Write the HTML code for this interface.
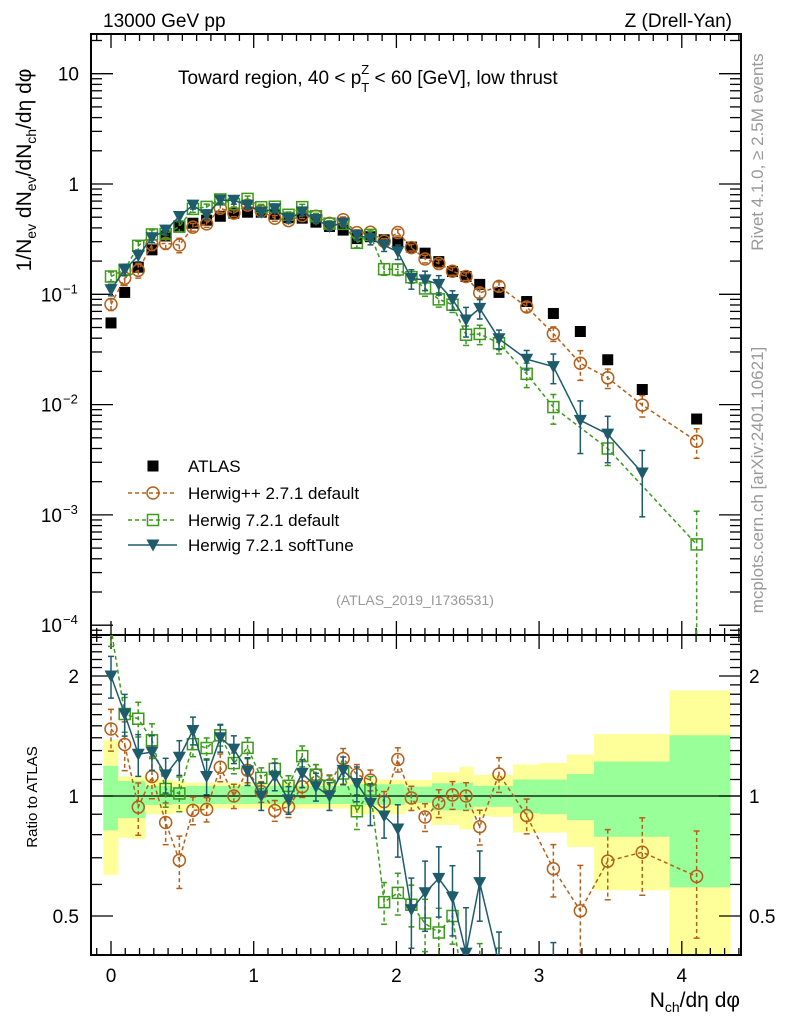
<!DOCTYPE html>
<html><head><meta charset="utf-8"><style>
html,body{margin:0;padding:0;background:#fff;width:786px;height:1024px;overflow:hidden;}
svg{display:block;font-family:"Liberation Sans",sans-serif;}
</style></head><body>
<svg id="chart" width="786" height="1024" viewBox="0 0 786 1024" xmlns="http://www.w3.org/2000/svg">
<defs>
<clipPath id="clipMain"><rect x="91" y="34" width="650" height="601"/></clipPath>
<clipPath id="clipRatio"><rect x="91" y="635" width="650" height="320"/></clipPath>
</defs>
<text x="103" y="27" font-size="19">13000 GeV pp</text>
<text x="732" y="27" font-size="19" text-anchor="end">Z (Drell-Yan)</text>
<text x="178" y="84" font-size="19">Toward region, 40 &lt; p<tspan font-size="13" dy="8">T</tspan><tspan font-size="13" dx="-8" dy="-18">Z</tspan><tspan dy="10"> &lt; 60 [GeV], low thrust</tspan></text>
<text transform="translate(763,152) rotate(-90)" font-size="17" fill="#999" text-anchor="middle">Rivet 4.1.0, ≥ 2.5M events</text>
<text transform="translate(763,480) rotate(-90)" font-size="17" fill="#999" text-anchor="middle">mcplots.cern.ch [arXiv:2401.10621]</text>
<text transform="translate(31,170) rotate(-90)" font-size="21" text-anchor="middle">1/N<tspan font-size="14" dy="5">ev</tspan><tspan dy="-5"> dN</tspan><tspan font-size="14" dy="5">ev</tspan><tspan dy="-5">/dN</tspan><tspan font-size="14" dy="5">ch</tspan><tspan dy="-5">/dη dφ</tspan></text>
<text transform="translate(37,797) rotate(-90)" font-size="15" text-anchor="middle">Ratio to ATLAS</text>
<text x="740" y="1007" font-size="21" text-anchor="end">N<tspan font-size="14" dy="5">ch</tspan><tspan dy="-5">/dη dφ</tspan></text>
<text x="415" y="605" font-size="14" fill="#999" text-anchor="middle">(ATLAS_2019_I1736531)</text>
<g id="bands" clip-path="url(#clipRatio)"></g>
<g id="axes"></g>
<g id="mainMarks" clip-path="url(#clipMain)"></g>
<g id="ratioMarks" clip-path="url(#clipRatio)"></g>
<g id="legend"></g>
</svg>
<script>
const nch=[0,0.096,0.191,0.287,0.383,0.479,0.574,0.670,0.766,0.861,0.957,1.053,1.148,1.244,1.340,1.436,1.531,1.627,1.723,1.818,1.914,2.010,2.105,2.201,2.297,2.393,2.488,2.584,2.719,2.913,3.100,3.289,3.481,3.723,4.104];
const atlas=[0.055,0.104,0.176,0.253,0.338,0.406,0.441,0.470,0.510,0.544,0.555,0.555,0.532,0.496,0.490,0.451,0.412,0.382,0.320,0.333,0.312,0.294,0.268,0.236,0.198,0.161,0.145,0.123,0.104,0.086,0.067,0.046,0.0255,0.0137,0.0074];
const hpp=[0.081,0.140,0.165,0.283,0.290,0.280,0.406,0.435,0.602,0.544,0.644,0.569,0.489,0.466,0.517,0.510,0.439,0.474,0.362,0.365,0.302,0.363,0.265,0.209,0.190,0.162,0.145,0.103,0.118,0.0768,0.0440,0.0237,0.0175,0.0099,0.00465];
const h7=[0.145,0.167,0.275,0.349,0.352,0.412,0.595,0.620,0.724,0.658,0.733,0.616,0.622,0.526,0.617,0.510,0.437,0.435,0.293,0.345,0.169,0.168,0.143,0.113,0.090,0.0805,0.043,0.0437,0.036,0.019,0.0095,null,0.0040,null,0.00054];
const soft=[0.110,0.167,0.224,0.326,0.382,0.508,0.644,0.526,0.714,0.713,0.641,0.555,0.596,0.485,0.559,0.476,0.412,0.443,0.344,0.319,0.278,0.243,0.139,0.135,0.123,0.0897,0.0585,0.0746,0.0395,0.0258,0.0221,0.0072,0.0054,0.0024,null];
const hppErr=[0.12,0.14,0.15,0.12,0.12,0.15,0.08,0.07,0.08,0.07,0.07,0.06,0.06,0.06,0.06,0.06,0.06,0.06,0.06,0.06,0.06,0.07,0.07,0.08,0.08,0.08,0.08,0.1,0.1,0.1,0.15,0.3,0.2,0.22,0.3];
const h7Err=[0.1,0.1,0.1,0.1,0.1,0.1,0.07,0.06,0.06,0.06,0.06,0.06,0.06,0.06,0.06,0.06,0.06,0.06,0.1,0.08,0.12,0.12,0.12,0.15,0.15,0.15,0.2,0.2,0.2,0.25,0.3,0,0.3,0,1.0];
const softErr=[0.12,0.12,0.12,0.1,0.1,0.1,0.08,0.1,0.08,0.08,0.08,0.08,0.08,0.08,0.08,0.08,0.08,0.08,0.1,0.12,0.12,0.15,0.2,0.2,0.2,0.2,0.3,0.2,0.2,0.2,0.3,0.5,0.45,0.6,0];
const bandYlo=[0.634,0.786,0.78,0.90,0.90,0.91,0.93,0.93,0.93,0.93,0.93,0.93,0.93,0.93,0.93,0.93,0.93,0.93,0.90,0.90,0.90,0.90,0.92,0.92,0.846,0.846,0.825,0.89,0.886,0.81,0.81,0.745,0.58,0.58,0.3];
const bandYhi=[1.38,1.12,1.12,1.10,1.10,1.09,1.08,1.08,1.08,1.08,1.08,1.08,1.08,1.08,1.08,1.08,1.08,1.08,1.10,1.10,1.10,1.10,1.097,1.097,1.146,1.146,1.184,1.13,1.13,1.2,1.21,1.27,1.43,1.43,1.84];
const bandGlo=[0.82,0.88,0.88,0.95,0.95,0.955,0.955,0.955,0.955,0.955,0.955,0.955,0.955,0.955,0.955,0.955,0.955,0.955,0.95,0.95,0.95,0.95,0.96,0.96,0.92,0.92,0.92,0.94,0.94,0.905,0.9,0.87,0.79,0.79,0.59];
const bandGhi=[1.19,1.09,1.09,1.06,1.06,1.05,1.06,1.06,1.06,1.06,1.06,1.06,1.06,1.06,1.06,1.06,1.06,1.06,1.07,1.07,1.07,1.07,1.055,1.055,1.076,1.076,1.08,1.06,1.06,1.1,1.1,1.135,1.22,1.22,1.42];
const bandFirstEdge=-0.054, bandLastEdge=4.338;
const xTicks=[0,1,2,3,4];
const mainTickExp=[1,0,-1,-2,-3,-4];
const ratioTicks=[0.5,1,2];

const NS="http://www.w3.org/2000/svg";
const xp=v=>111+142.7*v;
const yp=v=>184-110.3*Math.log10(v);
const rp=r=>796-120*Math.log2(r);
function mk(tag,attrs,parent){const e=document.createElementNS(NS,tag);for(const k in attrs)e.setAttribute(k,attrs[k]);parent.appendChild(e);return e;}
const axes=document.getElementById('axes');
const bands=document.getElementById('bands');
const mainG=document.getElementById('mainMarks');
const ratioG=document.getElementById('ratioMarks');
const legend=document.getElementById('legend');

const edges=[bandFirstEdge];
for(let i=0;i<nch.length-1;i++)edges.push((nch[i]+nch[i+1])/2);
edges.push(bandLastEdge);
for(let i=0;i<nch.length;i++){
  const x0=xp(edges[i]),x1=xp(edges[i+1]);
  const y=mk('rect',{x:x0,y:rp(bandYhi[i]),width:x1-x0+0.5,height:rp(bandYlo[i])-rp(bandYhi[i]),fill:'#ffff99'},bands);
  
  
  const g=mk('rect',{x:x0,y:rp(bandGhi[i]),width:x1-x0+0.5,height:rp(bandGlo[i])-rp(bandGhi[i]),fill:'#99ff99'},bands);
  
  
}
const one=mk('line',{x1:91,x2:741,y1:rp(1),y2:rp(1),stroke:'#000','stroke-width':1.3},bands);



for(const [t,b,n] of [[34,635,'main-frame'],[635,955,'ratio-frame']]){
  const r=mk('rect',{x:91,y:t,width:650,height:b-t,fill:'none',stroke:'#000','stroke-width':2},axes);
  
  
}
for(let k=-1;k<=44;k++){
  const v=k/10; const x=xp(v); if(x<92||x>740)continue;
  const major=(k%10===0); const L=major?14:7;
  for(const [t,b] of [[34,635],[635,955]]){
    mk('line',{x1:x,x2:x,y1:t,y2:t+L,stroke:'#000','stroke-width':1.3},axes);
    mk('line',{x1:x,x2:x,y1:b,y2:b-L,stroke:'#000','stroke-width':1.3},axes);
  }
}
xTicks.forEach(v=>{
  const t=mk('text',{x:xp(v),y:982,'font-size':19,'text-anchor':'middle'},axes);
  t.textContent=String(v);
  
  
});
for(let e=-5;e<=1;e++){
  for(let m=1;m<=9;m++){
    const v=m*Math.pow(10,e); const y=yp(v); if(y<35||y>634)continue;
    const L=m===1?22:11;
    mk('line',{x1:91,x2:91+L,y1:y,y2:y,stroke:'#000','stroke-width':1.3},axes);
    mk('line',{x1:741,x2:741-L,y1:y,y2:y,stroke:'#000','stroke-width':1.3},axes);
  }
}
mainTickExp.forEach(e=>{
  const y=yp(Math.pow(10,e))+7;
  const t=mk('text',{y:y,'font-size':19,'text-anchor':'end'},axes);
  
  
  if(e===1){t.setAttribute('x',79);t.textContent='10';}
  else if(e===0){t.setAttribute('x',79);t.textContent='1';}
  else{t.setAttribute('x',62);t.textContent='10';
    const s=mk('text',{x:63,y:y-8,'font-size':13},axes);s.textContent='−'+(-e);
    
    }
});
const rminor=[0.4,0.5,0.6,0.7,0.8,0.9,1,1.1,1.2,1.3,1.4,1.5,1.6,1.7,1.8,1.9,2,2.1,2.2,2.3,2.4,2.5];
rminor.forEach(r=>{
  const y=rp(r); if(y<636||y>954)return;
  const L=(r===0.5||r===1||r===2)?22:11;
  mk('line',{x1:91,x2:91+L,y1:y,y2:y,stroke:'#000','stroke-width':1.3},axes);
  mk('line',{x1:741,x2:741-L,y1:y,y2:y,stroke:'#000','stroke-width':1.3},axes);
});
ratioTicks.forEach(r=>{
  const a=mk('text',{x:79,y:rp(r)+7,'font-size':19,'text-anchor':'end'},axes);a.textContent=String(r);
  
  
  const b=mk('text',{x:749,y:rp(r)+7,'font-size':19},axes);b.textContent=String(r);
  
  
});

function marker(type,x,y,col,parent){
  let e;
  if(type==='sq'){e=mk('rect',{x:x-5.5,y:y-5.5,width:11,height:11,fill:'#000'},parent);}
  else if(type==='circ'){e=mk('circle',{cx:x,cy:y,r:6,fill:'none',stroke:col,'stroke-width':1.5},parent);}
  else if(type==='osq'){e=mk('rect',{x:x-5.5,y:y-5.5,width:11,height:11,fill:'none',stroke:col,'stroke-width':1.5},parent);}
  else {e=mk('path',{d:`M${x-6.5},${y-5.5}L${x+6.5},${y-5.5}L${x},${y+6.5}Z`,fill:col},parent);}
  return e;
}
const series=[
  {vals:hpp,err:hppErr,col:'#b5601a',type:'circ',dash:'4,3',name:'herwigpp-271-default'},
  {vals:h7,err:h7Err,col:'#3c9a1c',type:'osq',dash:'4,3',name:'herwig-721-default'},
  {vals:soft,err:softErr,col:'#1e5b6b',type:'tri',dash:null,name:'herwig-721-softtune'}
];
function drawSeries(s,g,fy,isRatio){
  const pts=[];
  s.vals.forEach((v,i)=>{if(v===null)return;const val=isRatio?v/atlas[i]:v;pts.push([xp(nch[i]),fy(val),val,i]);});
  const attrs={d:'M'+pts.map(p=>p[0].toFixed(1)+','+p[1].toFixed(1)).join('L'),fill:'none',stroke:s.col,'stroke-width':1.5};
  if(s.dash)attrs['stroke-dasharray']=s.dash;
  const line=mk('path',attrs,g);
  
  
  pts.forEach(p=>{
    const e=s.err[p[3]];const hi=p[2]*(1+e), lo=Math.max(p[2]*(1-e),1e-9);
    const ea={x1:p[0],x2:p[0],y1:fy(hi),y2:fy(lo),stroke:s.col,'stroke-width':1.5};
    if(s.dash)ea['stroke-dasharray']=s.dash;
    const eb=mk('line',ea,g);
    
    
    mk('line',{x1:p[0]-3,x2:p[0]+3,y1:fy(hi),y2:fy(hi),stroke:s.col,'stroke-width':1.5},g);
    mk('line',{x1:p[0]-3,x2:p[0]+3,y1:fy(lo),y2:fy(lo),stroke:s.col,'stroke-width':1.5},g);
    const m=marker(s.type,p[0],p[1],s.col,g);
    
    
  });
}
atlas.forEach((v,i)=>{
  const m=marker('sq',xp(nch[i]),yp(v),'#000',mainG);
  
  
});
series.forEach(s=>{drawSeries(s,mainG,yp,false);drawSeries(s,ratioG,rp,true);});

const lrows=[{t:'ATLAS',type:'sq',col:'#000',dash:null,y:466,n:'legend-entry-atlas'}];
series.forEach((s,k)=>lrows.push({t:['Herwig++ 2.7.1 default','Herwig 7.2.1 default','Herwig 7.2.1 softTune'][k],type:s.type,col:s.col,dash:s.dash,y:[493,520,545][k],n:'legend-entry-'+s.name}));
lrows.forEach(r=>{
  const g=mk('g',{},legend);
  
  
  if(r.type!=='sq'){const a={x1:128,x2:177,y1:r.y,y2:r.y,stroke:r.col,'stroke-width':1.5};if(r.dash)a['stroke-dasharray']=r.dash;mk('line',a,g);}
  marker(r.type,153,r.y,r.col,g);
  const t=mk('text',{x:188,y:r.y+6,'font-size':17},g);t.textContent=r.t;
});
</script>
</body></html>
